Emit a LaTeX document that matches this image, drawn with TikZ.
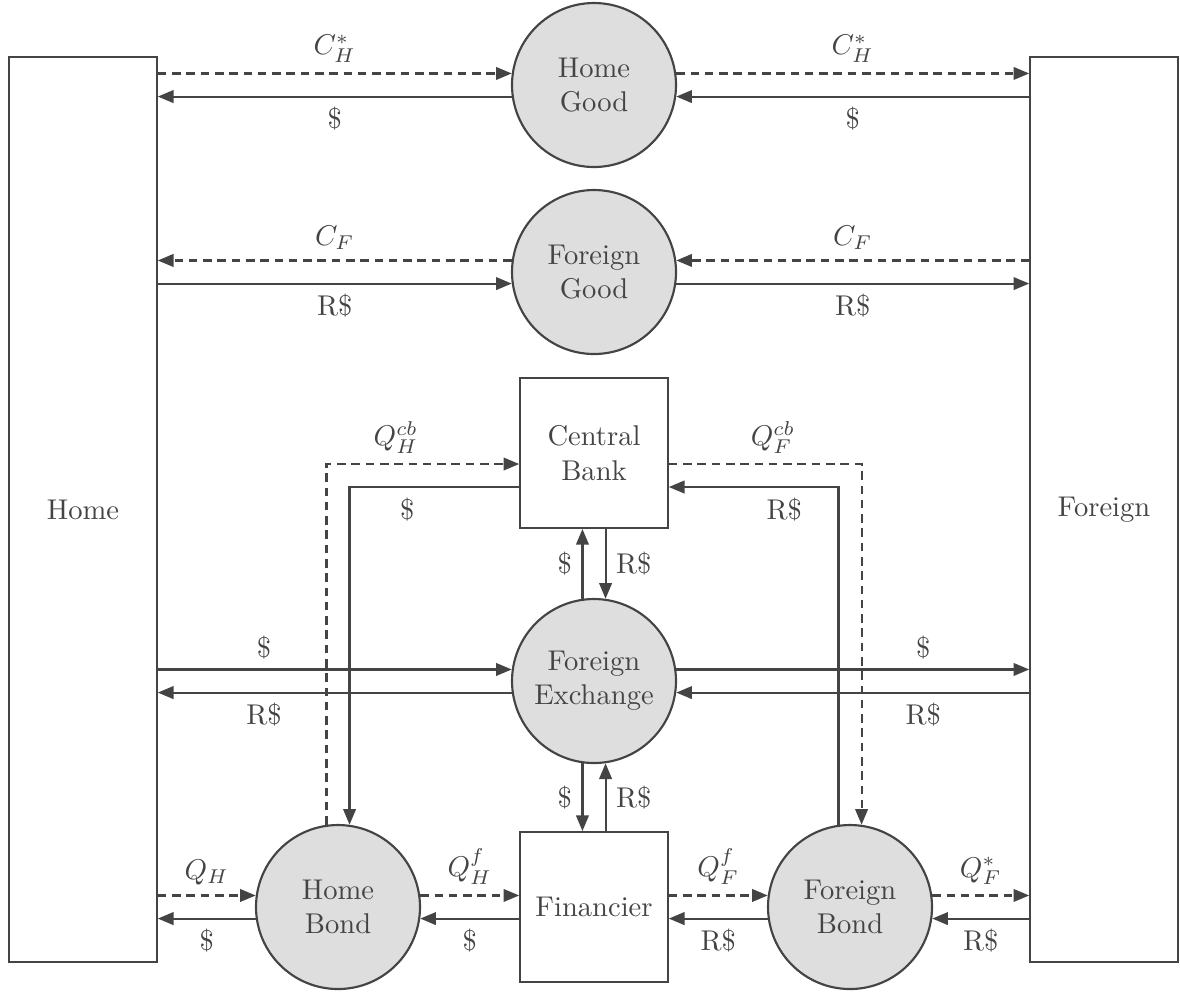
\documentclass[tikz,border=0pt]{standalone}
\usetikzlibrary{arrows.meta}
\definecolor{ink}{HTML}{444444}
\definecolor{ballfill}{HTML}{DEDEDE}
\begin{document}
\begin{tikzpicture}[x=0.35pt,y=-0.35pt,
  every node/.style={text=ink},
  ball/.style={circle,draw=ink,fill=ballfill,line width=0.75pt,minimum size=57.4pt,inner sep=0pt,align=center},
  box/.style={rectangle,draw=ink,line width=0.75pt,minimum width=51.6pt,minimum height=52.4pt,inner sep=0pt,align=center},
  agent/.style={rectangle,draw=ink,line width=0.75pt,minimum width=51.6pt,minimum height=316.8pt,inner sep=0pt},
  flow/.style={draw=ink,line width=0.75pt,-{Triangle[length=5.5pt,width=4.4pt]}},
  claim/.style={flow,dash pattern=on 3pt off 2pt}]
\useasboundingbox (0,0) rectangle (1180,994);
% nodes
\node[agent] (Home) at (83,509.5) {Home};
\node[agent] (Foreign) at (1104,509.5) {Foreign};
\node[ball] (HG) at (594,85) {Home\\Good};
\node[ball] (FG) at (594,272) {Foreign\\Good};
\node[box] (CB) at (594,453) {Central\\Bank};
\node[ball] (FX) at (594,681) {Foreign\\Exchange};
\node[box] (Fin) at (594,907) {Financier};
\node[ball] (HB) at (338,907) {Home\\Bond};
\node[ball] (FB) at (850,907) {Foreign\\Bond};
% home good row
\draw[claim] (HG.172 -| Home.east) -- node[above]{$C_H^*$} (HG.172);
\draw[flow] (HG.188) -- node[below]{\$} (HG.188 -| Home.east);
\draw[claim] (HG.8) -- node[above]{$C_H^*$} (HG.8 -| Foreign.west);
\draw[flow] (HG.352 -| Foreign.west) -- node[below]{\$} (HG.352);
% foreign good row
\draw[claim] (FG.172) -- node[above]{$C_F$} (FG.172 -| Home.east);
\draw[flow] (FG.188 -| Home.east) -- node[below]{R\$} (FG.188);
\draw[claim] (FG.8 -| Foreign.west) -- node[above]{$C_F$} (FG.8);
\draw[flow] (FG.352) -- node[below]{R\$} (FG.352 -| Foreign.west);
% foreign exchange row
\draw[flow] (FX.172 -| Home.east) -- node[above,pos=0.3]{\$} (FX.172);
\draw[flow] (FX.188) -- node[below,pos=0.7]{R\$} (FX.188 -| Home.east);
\draw[flow] (FX.8) -- node[above,pos=0.7]{\$} (FX.8 -| Foreign.west);
\draw[flow] (FX.352 -| Foreign.west) -- node[below,pos=0.3]{R\$} (FX.352);
% bond row
\draw[claim] (HB.172 -| Home.east) -- node[above]{$Q_H$} (HB.172);
\draw[flow] (HB.188) -- node[below]{\$} (HB.188 -| Home.east);
\draw[claim] (HB.8) -- node[above]{$Q_H^f$} (HB.8 -| Fin.west);
\draw[flow] (HB.352 -| Fin.west) -- node[below]{\$} (HB.352);
\draw[claim] (FB.172 -| Fin.east) -- node[above]{$Q_F^f$} (FB.172);
\draw[flow] (FB.188) -- node[below]{R\$} (FB.188 -| Fin.east);
\draw[claim] (FB.8) -- node[above]{$Q_F^*$} (FB.8 -| Foreign.west);
\draw[flow] (FB.352 -| Foreign.west) -- node[below]{R\$} (FB.352);
% central bank links
\draw[claim] (HB.98) |- node[above,pos=0.68]{$Q_H^{cb}$} ([yshift=-3.85pt]CB.west);
\draw[flow] ([yshift=-11.9pt]CB.west) -| node[below,pos=0.33]{\$} (HB.82);
\draw[claim] ([yshift=-3.85pt]CB.east) -| node[above,pos=0.27]{$Q_F^{cb}$} (FB.82);
\draw[flow] (FB.98) |- node[below,pos=0.66]{R\$} ([yshift=-11.9pt]CB.east);
% vertical links
\draw[flow] (FX.98) -- node[left]{\$} (FX.98 |- CB.south);
\draw[flow] (CB.south -| FX.82) -- node[right]{R\$} (FX.82);
\draw[flow] (FX.262) -- node[left]{\$} (FX.262 |- Fin.north);
\draw[flow] (Fin.north -| FX.278) -- node[right]{R\$} (FX.278);
\end{tikzpicture}
\end{document}
